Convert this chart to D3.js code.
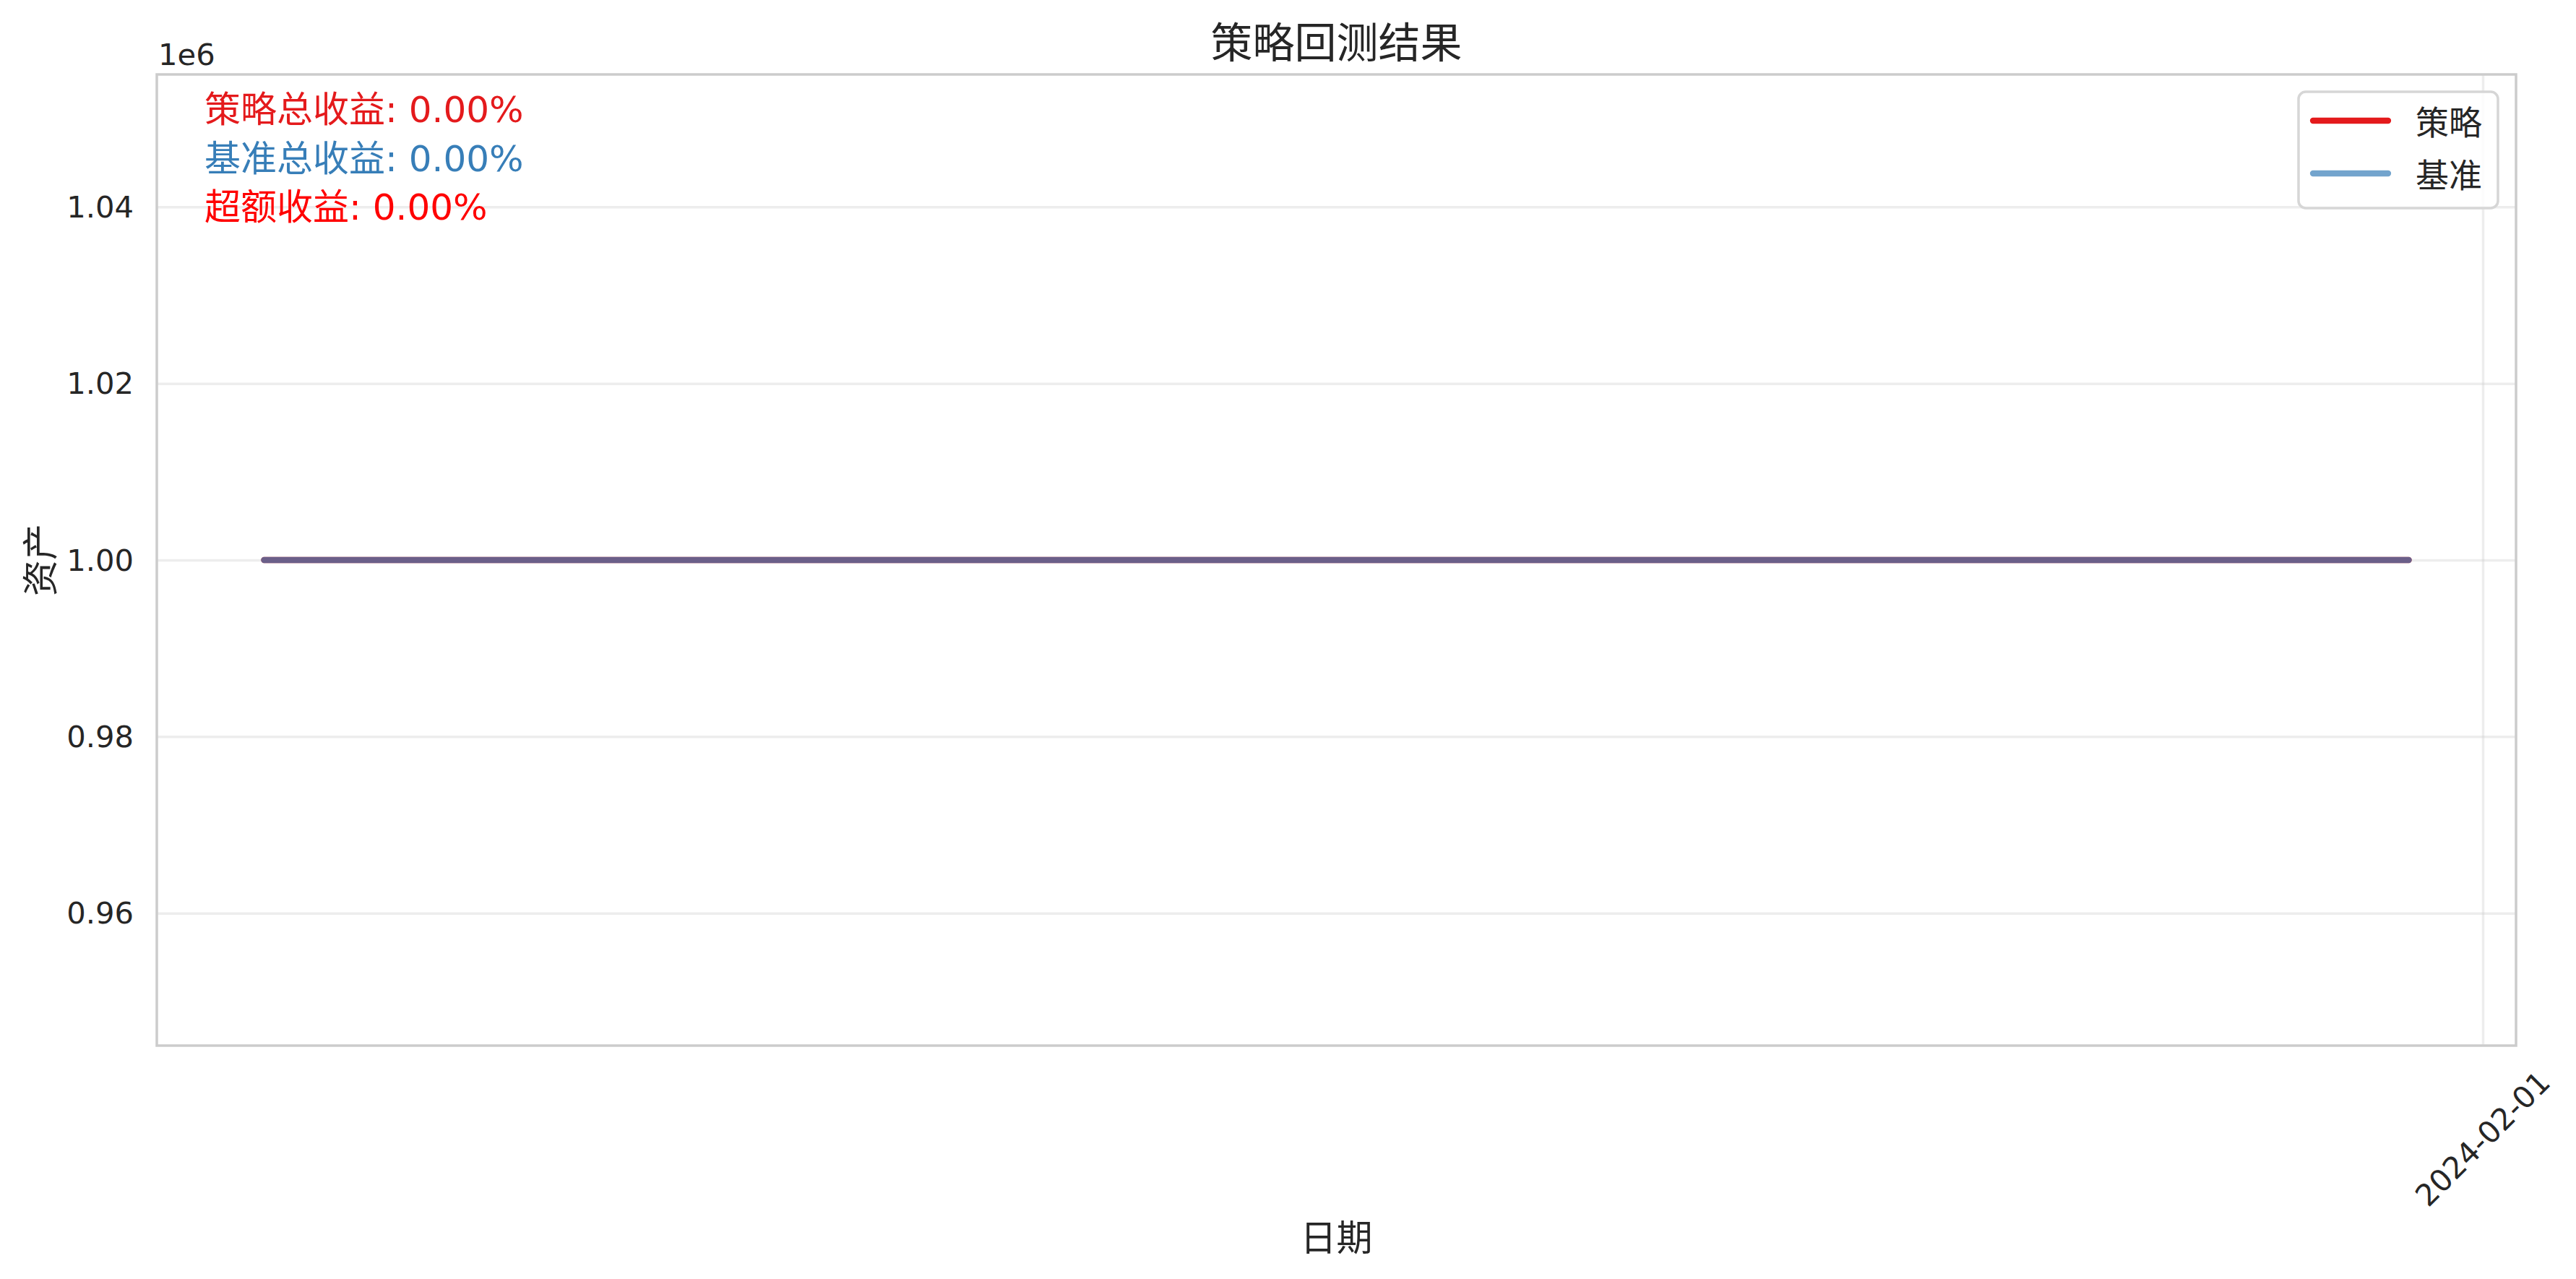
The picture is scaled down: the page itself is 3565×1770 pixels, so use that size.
<!DOCTYPE html>
<html>
<head>
<meta charset="utf-8">
<script src="https://cdn.jsdelivr.net/npm/d3@7"></script>
<style>
  body { margin: 0; background: #fff; }
  svg { font-family: "DejaVu Sans", "Noto Sans CJK SC", sans-serif; }
</style>
</head>
<body>
<div id="chart"></div>
<script>
// trading days in the backtest window
const dates = [
  "2024-01-02", "2024-01-03", "2024-01-04", "2024-01-05",
  "2024-01-08", "2024-01-09", "2024-01-10", "2024-01-11", "2024-01-12",
  "2024-01-15", "2024-01-16", "2024-01-17", "2024-01-18", "2024-01-19",
  "2024-01-22", "2024-01-23", "2024-01-24", "2024-01-25", "2024-01-26",
  "2024-01-29", "2024-01-30", "2024-01-31"
];
const strategyValues = [
  1000000, 1000000, 1000000, 1000000,
  1000000, 1000000, 1000000, 1000000, 1000000,
  1000000, 1000000, 1000000, 1000000, 1000000,
  1000000, 1000000, 1000000, 1000000, 1000000,
  1000000, 1000000, 1000000
];
const benchmarkValues = [
  1000000, 1000000, 1000000, 1000000,
  1000000, 1000000, 1000000, 1000000, 1000000,
  1000000, 1000000, 1000000, 1000000, 1000000,
  1000000, 1000000, 1000000, 1000000, 1000000,
  1000000, 1000000, 1000000
];
const seriesNames = ["策略", "基准"];
const statLabels = ["策略总收益", "基准总收益", "超额收益"];
const statValues = [0.0, 0.0, 0.0];
const yTicks = [960000, 980000, 1000000, 1020000, 1040000];
const yDomain = [945000, 1055000];
const xTicks = ["2024-02-01"];

const width = 3565;
const height = 1770;
const m = { left: 217, right: 3482, top: 103, bottom: 1447 };

const parse = d3.timeParse("%Y-%m-%d");
const dd = dates.map(parse);
const span = dd[dd.length - 1] - dd[0];

const x = d3.scaleTime()
  .domain([new Date(+dd[0] - span * 0.05), new Date(+dd[dd.length - 1] + span * 0.05)])
  .range([m.left, m.right]);
const y = d3.scaleLinear().domain(yDomain).range([m.bottom, m.top]);

const svg = d3.select("#chart").append("svg")
  .attr("width", width)
  .attr("height", height);

svg.append("rect").attr("width", width).attr("height", height).attr("fill", "#fff");

// grid
const gy = svg.append("g")
  .attr("transform", `translate(${m.left},0)`)
  .call(d3.axisLeft(y).tickValues(yTicks).tickSize(-(m.right - m.left)).tickFormat(""));
gy.select(".domain").remove();
gy.selectAll("line").attr("stroke", "#cccccc").attr("stroke-opacity", 0.35).attr("stroke-width", 3.5);

const gx = svg.append("g")
  .attr("transform", `translate(0,${m.bottom})`)
  .call(d3.axisBottom(x).tickValues(xTicks.map(parse)).tickSize(-(m.bottom - m.top)).tickFormat(""));
gx.select(".domain").remove();
gx.selectAll("line").attr("stroke", "#cccccc").attr("stroke-opacity", 0.35).attr("stroke-width", 3.5);

// y tick labels
svg.append("g").selectAll("text")
  .data(yTicks)
  .join("text")
  .attr("x", 185)
  .attr("y", d => y(d))
  .attr("text-anchor", "end")
  .attr("dominant-baseline", "central")
  .attr("font-size", 41.7)
  .attr("fill", "#262626")
  .text(d => (d / 1e6).toFixed(2));

svg.append("text")
  .attr("x", 219).attr("y", 90)
  .attr("font-size", 41.7)
  .attr("fill", "#262626")
  .text("1e6");

// x tick labels
svg.append("g").selectAll("text")
  .data(xTicks)
  .join("text")
  .attr("transform", d => `translate(${x(parse(d))},1576) rotate(-45)`)
  .attr("text-anchor", "middle")
  .attr("dominant-baseline", "central")
  .attr("font-size", 41.7)
  .attr("fill", "#262626")
  .text(d => d);

// lines
const line = vals => d3.line()
  .x((d, i) => x(dd[i]))
  .y(d => y(d))(vals);

svg.append("path")
  .attr("d", line(strategyValues))
  .attr("fill", "none")
  .attr("stroke", "#e41a1c")
  .attr("stroke-width", 8.3)
  .attr("stroke-linecap", "round");

svg.append("path")
  .attr("d", line(benchmarkValues))
  .attr("fill", "none")
  .attr("stroke", "#377eb8")
  .attr("stroke-opacity", 0.7)
  .attr("stroke-width", 8.3)
  .attr("stroke-linecap", "round");

// spines
svg.append("rect")
  .attr("x", m.left).attr("y", m.top)
  .attr("width", m.right - m.left).attr("height", m.bottom - m.top)
  .attr("fill", "none")
  .attr("stroke", "#cccccc")
  .attr("stroke-width", 3.5);

// stats text
const statColors = ["#e41a1c", "#377eb8", "#ff0000"];
svg.append("g").selectAll("text")
  .data(statLabels)
  .join("text")
  .attr("x", 283)
  .attr("y", (d, i) => 169 + i * 67.5)
  .attr("font-size", 50)
  .attr("fill", (d, i) => statColors[i])
  .text((d, i) => `${d}: ${statValues[i].toFixed(2)}%`);

// title and axis labels
svg.append("text")
  .attr("x", (m.left + m.right) / 2).attr("y", 80)
  .attr("text-anchor", "middle")
  .attr("font-size", 58)
  .attr("fill", "#262626")
  .text("策略回测结果");

svg.append("text")
  .attr("x", (m.left + m.right) / 2).attr("y", 1731)
  .attr("text-anchor", "middle")
  .attr("font-size", 50)
  .attr("fill", "#262626")
  .text("日期");

svg.append("text")
  .attr("transform", `translate(57,${(m.top + m.bottom) / 2}) rotate(-90)`)
  .attr("text-anchor", "middle")
  .attr("dominant-baseline", "central")
  .attr("font-size", 50)
  .attr("fill", "#262626")
  .text("资产");

// legend
const legendRight = 3457, legendTop = 127;
const lg = svg.append("g");
const box = lg.append("rect");
const labels = lg.selectAll("text")
  .data(seriesNames)
  .join("text")
  .attr("dominant-baseline", "central")
  .attr("font-size", 46)
  .attr("fill", "#262626")
  .text(d => d);
const textW = d3.max(labels.nodes(), n => n.getComputedTextLength());
const boxW = 16 + 108 + 38 + textW + 22;
const boxX = legendRight - boxW;
box.attr("x", boxX).attr("y", legendTop)
  .attr("width", boxW).attr("height", 161)
  .attr("rx", 10)
  .attr("fill", "#fff")
  .attr("fill-opacity", 0.8)
  .attr("stroke", "#d6d6d6")
  .attr("stroke-width", 3.5);
const legendColors = ["#e41a1c", "#377eb8"];
const legendOpacity = [1, 0.7];
lg.selectAll("line")
  .data(seriesNames)
  .join("line")
  .attr("x1", boxX + 20).attr("x2", boxX + 124)
  .attr("y1", (d, i) => 167 + i * 73).attr("y2", (d, i) => 167 + i * 73)
  .attr("stroke", (d, i) => legendColors[i])
  .attr("stroke-opacity", (d, i) => legendOpacity[i])
  .attr("stroke-width", 8.3)
  .attr("stroke-linecap", "round");
labels.attr("x", boxX + 162).attr("y", (d, i) => 170 + i * 73);
</script>
</body>
</html>
